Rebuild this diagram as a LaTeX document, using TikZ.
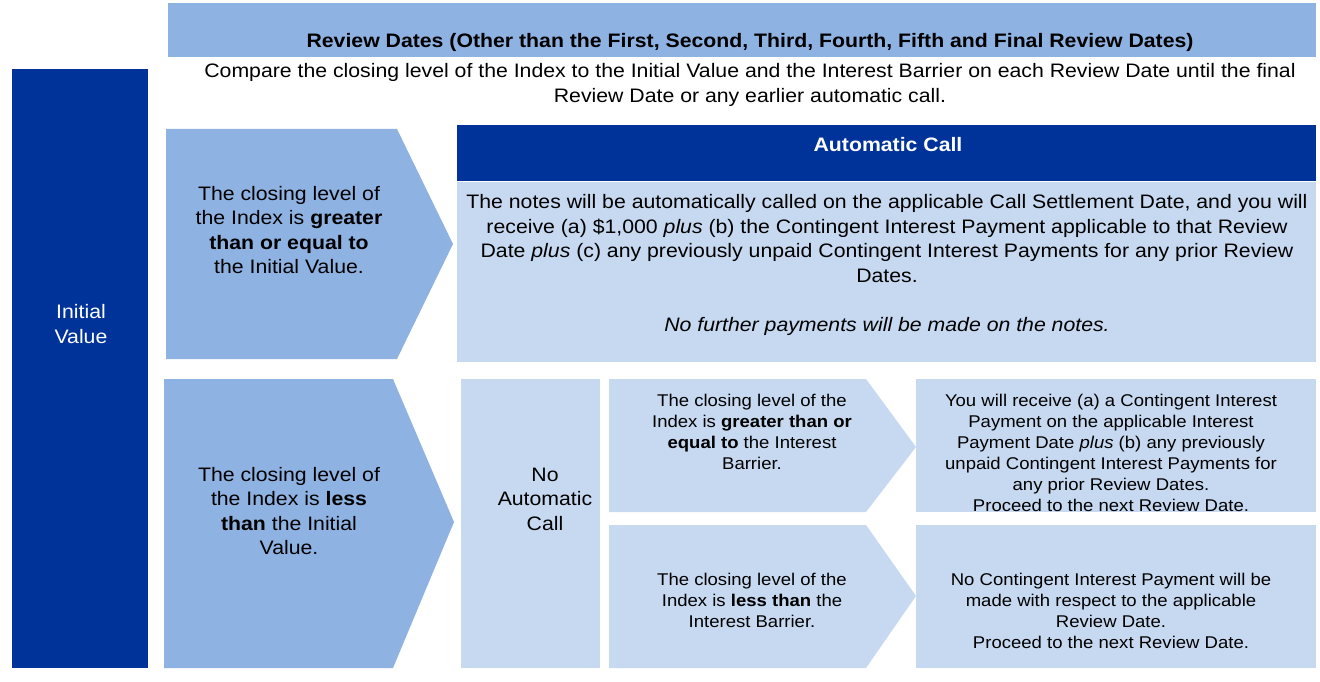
\documentclass[tikz,border=0pt]{standalone}
\usepackage{fontspec}
\setmainfont{Liberation Sans}[FakeStretch=1.09]
\definecolor{dkblue}{RGB}{0,51,153}
\definecolor{mdblue}{RGB}{142,178,226}
\definecolor{ltblue}{RGB}{198,217,240}
\tikzset{
  big/.style={font=\fontsize{19.5}{24.5}\selectfont, align=center, inner sep=0pt},
  small/.style={font=\fontsize{17}{21}\selectfont, align=center, inner sep=0pt},
}
\begin{document}
\begin{tikzpicture}[x=1pt,y=-1pt]
\useasboundingbox (0,0) rectangle (1320,682);
% header
\fill[mdblue] (168,3) rectangle (1316,57);
\node[font=\fontsize{19.5}{21}\selectfont\bfseries, inner sep=0pt] (hdr) at (750,42) {Review Dates (Other than the First, Second, Third, Fourth, Fifth and Final Review Dates)};
\node[big] (cmp) at (750,85) {Compare the closing level of the Index to the Initial Value and the Interest Barrier on each Review Date until the final\\Review Date or any earlier automatic call.};
% initial value bar
\fill[dkblue] (12,69) rectangle (148,668);
\node[big, text=white] (iv) at (81,324) {Initial\\Value};
% chevron 1
\fill[mdblue] (166,129) -- (397,129) -- (453,244) -- (397,359) -- (166,359) -- cycle;
\node[big] (c1) at (289,230) {The closing level of\\the Index is \textbf{greater}\\\textbf{than or equal to}\\the Initial Value.};
% chevron 2
\fill[mdblue] (164,379) -- (393,379) -- (454,522) -- (393,668) -- (164,668) -- cycle;
\node[big] (c2) at (289,511) {The closing level of\\the Index is \textbf{less}\\\textbf{than} the Initial\\Value.};
% automatic call
\fill[dkblue] (457,125) rectangle (1316,181);
\node[font=\fontsize{19.5}{22}\selectfont\bfseries, text=white, inner sep=0pt] (ach) at (888,145) {Automatic Call};
\fill[ltblue] (457,182) rectangle (1316,362);
\node[big] (acb) at (887,265) {The notes will be automatically called on the applicable Call Settlement Date, and you will\\receive (a) \$1,000 \textit{plus} (b) the Contingent Interest Payment applicable to that Review\\Date \textit{plus} (c) any previously unpaid Contingent Interest Payments for any prior Review\\Dates.\\[24.5pt]\textit{No further payments will be made on the notes.}};
% no automatic call
\fill[ltblue] (461,379) rectangle (600,668);
\node[big] (nac) at (545,499) {No\\Automatic\\Call};
% chevron 3
\fill[ltblue] (609,379) -- (866,379) -- (916,447) -- (866,512) -- (609,512) -- cycle;
\node[small] (c3) at (752,431.5) {The closing level of the\\Index is \textbf{greater than or}\\\textbf{equal to} the Interest\\Barrier.};
% chevron 4
\fill[ltblue] (609,525) -- (866,525) -- (916,596) -- (866,668) -- (609,668) -- cycle;
\node[small] (c4) at (752,600) {The closing level of the\\Index is \textbf{less than} the\\Interest Barrier.};
% results
\fill[ltblue] (916,379) rectangle (1316,512);
\node[small] (r1) at (1111,452.5) {You will receive (a) a Contingent Interest\\Payment on the applicable Interest\\Payment Date \textit{plus} (b) any previously\\unpaid Contingent Interest Payments for\\any prior Review Dates.\\Proceed to the next Review Date.};
\fill[ltblue] (916,525) rectangle (1316,668);
\node[small] (r2) at (1111,610.5) {No Contingent Interest Payment will be\\made with respect to the applicable\\Review Date.\\Proceed to the next Review Date.};
\end{tikzpicture}
\end{document}
